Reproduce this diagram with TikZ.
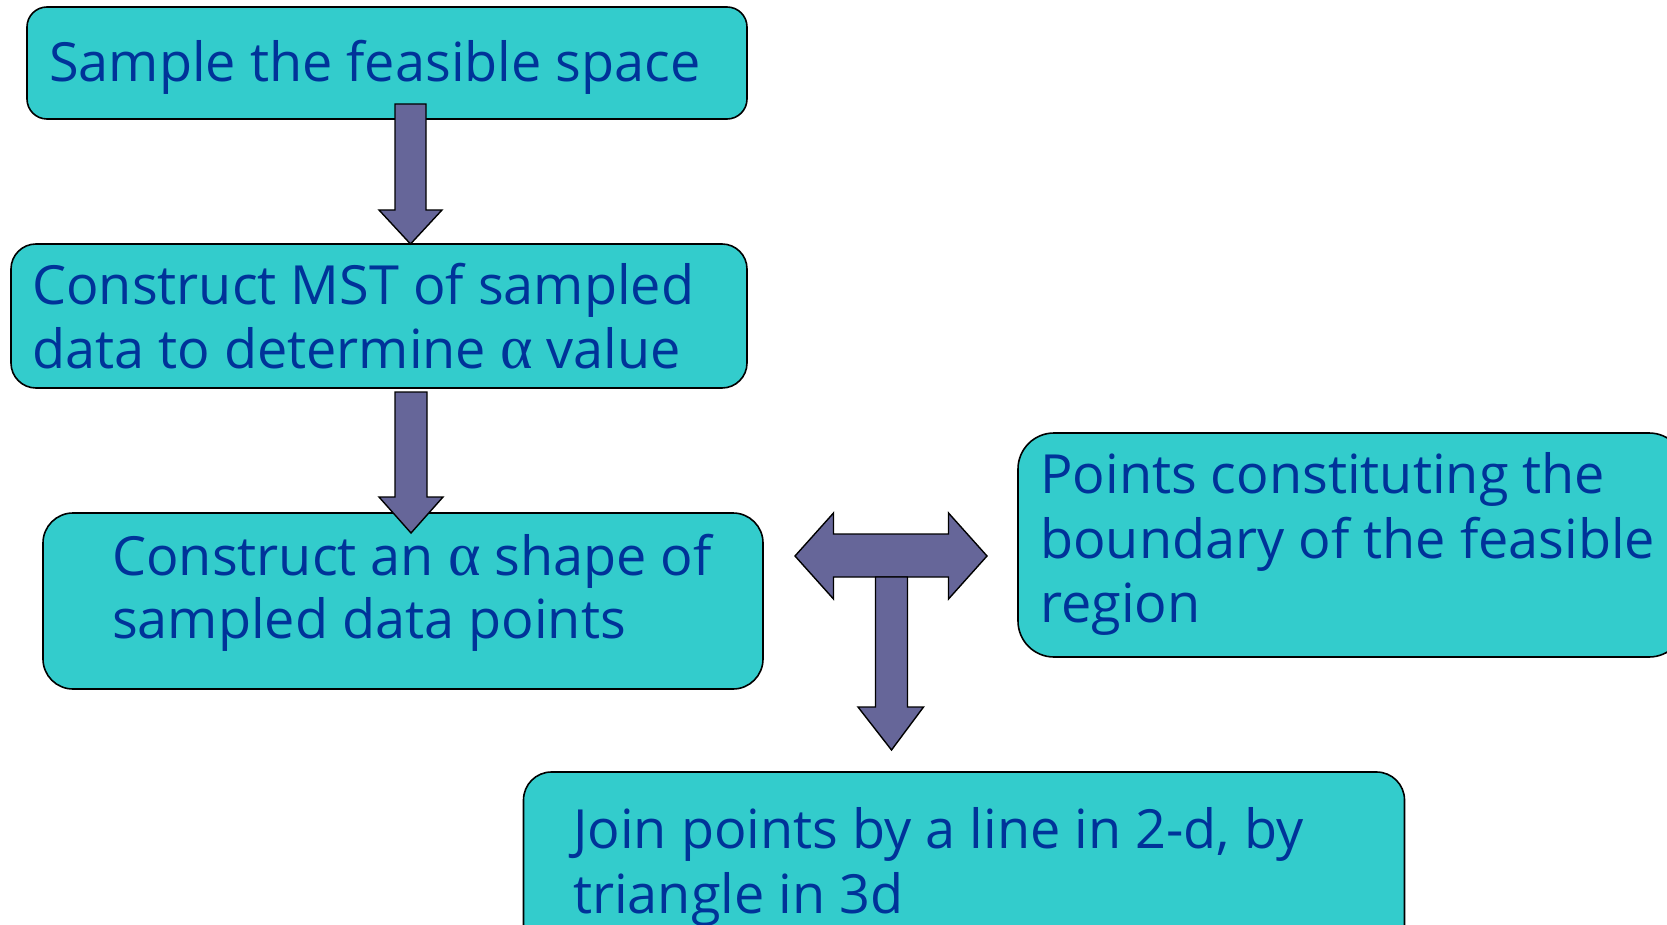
\documentclass[tikz,border=0pt]{standalone}
\usepackage{fontspec}
\setmainfont{Open Sans}
\newfontfamily\greekfont{Liberation Serif}
\definecolor{boxfill}{HTML}{33CCCC}
\definecolor{arrowfill}{HTML}{666699}
\definecolor{inkblue}{HTML}{003399}
\newcommand{\alphachar}{{\greekfont\fontsize{62}{62}\selectfont α}}
\begin{document}
\begin{tikzpicture}[x=1pt,y=-1pt,
  stepbox/.style={draw=black, line width=1.6pt, fill=boxfill, inner sep=0pt},
  steptext/.style={anchor=base west, inner sep=0pt, text=inkblue,
    font=\fontsize{54}{64}\selectfont},
  blockarrow/.style={draw=black, line width=1.4pt, fill=arrowfill, line join=miter}]
\useasboundingbox (0,0) rectangle (1667,925);
\clip (0,0) rectangle (1667,925);

% process boxes
\node[stepbox, rounded corners=20pt, minimum width=720pt, minimum height=112pt] (sample) at (387,63) {};
\node[stepbox, rounded corners=25pt, minimum width=736pt, minimum height=144pt] (mst) at (379,316) {};
\node[stepbox, rounded corners=30pt, minimum width=720pt, minimum height=176pt] (ashape) at (403,601) {};
\node[stepbox, rounded corners=36pt, minimum width=667pt, minimum height=224pt] (boundary) at (1351.5,545) {};
\node[stepbox, rounded corners=28pt, minimum width=881pt, minimum height=188pt] (join) at (964,866) {};

% box texts
\node[steptext] (t1) at (49,82) {Sample the feasible space};
\node[steptext] (t2a) at (32,305) {Construct MST of sampled};
\node[steptext] (t2b) at (32,368) {data to determine \alphachar{} value};
\node[steptext] (t3a) at (112,575) {Construct an \alphachar{} shape of};
\node[steptext] (t3b) at (112,638) {sampled data points};
\node[steptext] (t4a) at (1040,493) {Points constituting the};
\node[steptext] (t4b) at (1040,558) {boundary of the feasible};
\node[steptext] (t4c) at (1040,622) {region};
\node[steptext] (t5a) at (573,848) {Join points by a line in 2-d, by};
\node[steptext] (t5b) at (573,913) {triangle in 3d};

% block arrows between the steps
\draw[blockarrow] (395,104) -- (426,104) -- (426,210) -- (442,210) -- (410.5,244)
  -- (379,210) -- (395,210) -- cycle;
\draw[blockarrow] (395,392) -- (427,392) -- (427,497) -- (443,497) -- (411,533)
  -- (379,497) -- (395,497) -- cycle;
\draw[blockarrow] (795,556) -- (833.5,513) -- (833.5,534) -- (948.5,534) -- (948.5,513)
  -- (987,556) -- (948.5,599) -- (948.5,577) -- (833.5,577) -- (833.5,599) -- cycle;
\draw[blockarrow] (875.5,577) -- (907.5,577) -- (907.5,707) -- (923.5,707) -- (891.5,750)
  -- (858,707) -- (875.5,707) -- cycle;
\end{tikzpicture}
\end{document}
